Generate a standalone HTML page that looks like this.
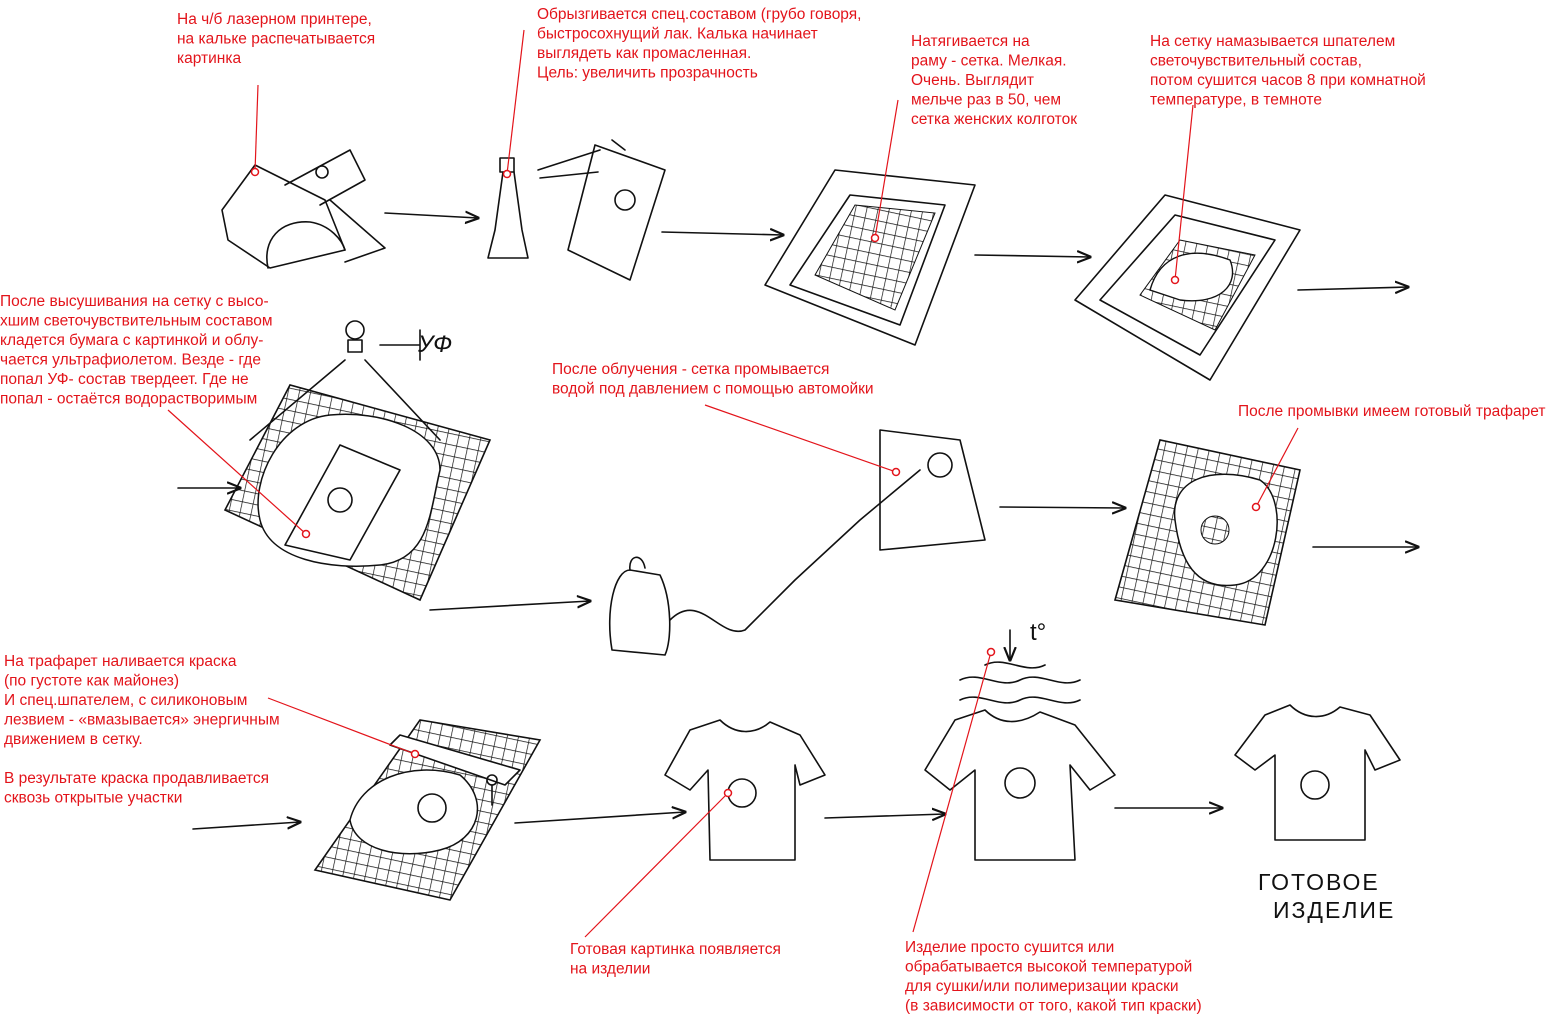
<!DOCTYPE html>
<html><head><meta charset="utf-8"><style>
html,body{margin:0;padding:0;background:#fff;}
svg{display:block}
.r{font-family:"Liberation Sans",sans-serif;font-size:15.5px;fill:#e3141b}
.k{fill:none;stroke:#111;stroke-width:1.6;stroke-linecap:round;stroke-linejoin:round}
.l{stroke:#e3141b;stroke-width:1.2;fill:none}
.d{fill:#fff;stroke:#e3141b;stroke-width:1.5}
.h{font-family:"Liberation Sans",sans-serif;fill:#111}
</style></head><body>
<svg width="1560" height="1032" viewBox="0 0 1560 1032" xmlns="http://www.w3.org/2000/svg">
<defs>
<pattern id="g" width="11" height="11" patternUnits="userSpaceOnUse" patternTransform="rotate(12)">
<path d="M0 0H11M0 0V11" stroke="#111" stroke-width="1.4"/></pattern>
<marker id="a" viewBox="0 0 10 10" refX="9" refY="5" markerWidth="9" markerHeight="9" orient="auto"><path d="M0 1L10 5L0 9" fill="none" stroke="#111" stroke-width="1.5"/></marker>
</defs>
<rect width="1560" height="1032" fill="#fff"/>

<g class="k" marker-end="url(#a)">
<path d="M385 213L478 218"/><path d="M662 232L783 235"/><path d="M975 255L1090 257"/>
<path d="M1298 290L1408 287"/><path d="M178 488L240 488"/><path d="M430 610L590 601"/>
<path d="M1000 507L1125 508"/><path d="M1313 547L1418 547"/><path d="M193 829L300 822"/>
<path d="M515 823L685 812"/><path d="M825 818L945 814"/><path d="M1115 808L1222 808"/>
</g>

<g class="k">
<path d="M222 210L255 165L325 200L345 250L270 268L228 240Z"/>
<path d="M268 268C262 240 280 220 310 222C330 225 342 240 345 250"/>
<path d="M285 185L350 150L365 180L320 205"/>
<path d="M330 200L385 248L345 262"/>
<circle cx="322" cy="172" r="6"/>
</g>
<g class="k">
<path d="M500 158h14v14h-14z"/><path d="M503 172L495 230L488 258h40L522 230L514 172"/>
<path d="M538 170L600 150M540 178L598 172"/>
<path d="M595 145L665 170L630 280L568 250Z"/><path d="M612 140L625 150"/>
<circle cx="625" cy="200" r="10"/>
</g>
<g class="k">
<path d="M765 285L835 170L975 185L915 345Z"/><path d="M790 285L850 195L945 205L900 325Z"/>
</g>
<path d="M815 275L855 205L935 213L895 310Z" fill="url(#g)" stroke="#111"/>
<g class="k"><path d="M1075 300L1165 195L1300 230L1210 380Z"/><path d="M1100 300L1175 215L1275 240L1200 355Z"/></g>
<path d="M1140 295L1180 240L1255 255L1215 330Z" fill="url(#g)" stroke="#111"/>
<path d="M1150 290C1160 255 1190 245 1230 260C1240 285 1220 305 1180 300Z" fill="#fff" stroke="#111" stroke-width="1.4"/>

<path d="M225 510L290 385L490 440L420 600Z" fill="url(#g)" stroke="#111" stroke-width="1.6"/>
<path d="M260 520C250 480 280 420 330 415C380 410 440 430 440 470C430 510 430 560 380 565C330 570 270 560 260 520Z" fill="#fff" stroke="#111" stroke-width="1.5"/>
<path d="M285 545L340 445L400 470L350 560Z" class="k" fill="#fff"/>
<circle cx="340" cy="500" r="12" class="k"/>
<g class="k"><circle cx="355" cy="330" r="9"/><path d="M348 340h14v12h-14z"/><path d="M345 360L250 440M365 360L440 440M380 345L420 345M420 330v30"/></g>
<text x="418" y="352" class="h" font-size="24" font-style="italic">УФ</text>

<g class="k">
<path d="M612 650C605 610 615 570 630 570L660 575C672 600 672 640 665 655Z"/><path d="M630 570C628 555 642 552 645 568"/>
<path d="M670 620C700 590 720 640 745 630L795 580L860 520L920 470"/>
<path d="M880 430L960 440L985 540L880 550Z"/>
<circle cx="940" cy="465" r="12"/>
</g>
<path d="M1115 600L1160 440L1300 470L1265 625Z" fill="url(#g)" stroke="#111" stroke-width="1.6"/>
<path d="M1175 520C1170 480 1210 465 1260 480C1290 500 1280 580 1235 585C1195 590 1180 560 1175 520Z" fill="#fff" stroke="#111" stroke-width="1.5"/>
<circle cx="1215" cy="530" r="14" fill="url(#g)" stroke="#111"/>

<path d="M315 870L420 720L540 740L450 900Z" fill="url(#g)" stroke="#111" stroke-width="1.6"/>
<path d="M350 820C360 780 410 760 460 775C490 800 480 840 440 850C400 860 355 850 350 820Z" fill="#fff" stroke="#111" stroke-width="1.5"/>
<circle cx="432" cy="808" r="14" class="k"/>
<g class="k"><path d="M390 745L400 735L520 770L505 785Z" fill="#fff"/><circle cx="492" cy="780" r="5"/><path d="M492 785V805"/></g>

<g class="k">
<path d="M690 730L720 720C735 735 755 735 770 722L800 735L825 775L800 785L795 765L795 860H710L708 770L690 790L665 775Z"/>
<circle cx="742" cy="793" r="14"/>
<path d="M955 720L985 710C1000 725 1020 725 1040 712L1075 725L1115 775L1090 790L1070 765L1075 860H975L975 770L950 790L925 770Z"/>
<circle cx="1020" cy="783" r="15"/>
<path d="M960 680c20-10 40 10 60 0s40 10 60 0M960 700c20-10 40 10 60 0s40 10 60 0M985 665c20-10 40 10 60 0"/>
<path d="M1010 630V660" marker-end="url(#a)"/>
<path d="M1265 715L1290 705C1305 720 1325 720 1340 707L1370 715L1400 760L1375 770L1365 750L1365 840H1275L1275 755L1255 770L1235 755Z"/>
<circle cx="1315" cy="785" r="14"/>
</g>
<text x="1030" y="640" class="h" font-size="24">t°</text>
<text x="1258" y="890" class="h" font-size="23" letter-spacing="2">ГОТОВОЕ</text>
<text x="1273" y="918" class="h" font-size="23" letter-spacing="2">ИЗДЕЛИЕ</text>

<g class="l"><path d="M258 85L255 172"/><path d="M524 30L507 174"/><path d="M898 100L875 238"/><path d="M1193 105L1175 280"/>
<path d="M168 410L306 534"/><path d="M705 405L896 472"/><path d="M1298 428L1256 507"/><path d="M268 698L415 754"/>
<path d="M585 937L728 793"/><path d="M913 932L991 652"/></g>
<g class="d"><circle cx="255" cy="172" r="3.5"/><circle cx="507" cy="174" r="3.5"/><circle cx="875" cy="238" r="3.5"/><circle cx="1175" cy="280" r="3.5"/>
<circle cx="306" cy="534" r="3.5"/><circle cx="896" cy="472" r="3.5"/><circle cx="1256" cy="507" r="3.5"/><circle cx="415" cy="754" r="3.5"/>
<circle cx="728" cy="793" r="3.5"/><circle cx="991" cy="652" r="3.5"/></g>

<text class="r" x="177" y="24"><tspan x="177">На ч/б лазерном принтере,</tspan><tspan x="177" dy="19.5">на кальке распечатывается</tspan><tspan x="177" dy="19.5">картинка</tspan></text>
<text class="r" x="537" y="19"><tspan x="537">Обрызгивается спец.составом (грубо говоря,</tspan><tspan x="537" dy="19.5">быстросохнущий лак. Калька начинает</tspan><tspan x="537" dy="19.5">выглядеть как промасленная.</tspan><tspan x="537" dy="19.5">Цель: увеличить прозрачность</tspan></text>
<text class="r" x="911" y="46"><tspan x="911">Натягивается на</tspan><tspan x="911" dy="19.5">раму - сетка. Мелкая.</tspan><tspan x="911" dy="19.5">Очень. Выглядит</tspan><tspan x="911" dy="19.5">мельче раз в 50, чем</tspan><tspan x="911" dy="19.5">сетка женских колготок</tspan></text>
<text class="r" x="1150" y="46"><tspan x="1150">На сетку намазывается шпателем</tspan><tspan x="1150" dy="19.5">светочувствительный состав,</tspan><tspan x="1150" dy="19.5">потом сушится часов 8 при комнатной</tspan><tspan x="1150" dy="19.5">температуре, в темноте</tspan></text>
<text class="r" x="0" y="306"><tspan x="0">После высушивания на сетку с высо-</tspan><tspan x="0" dy="19.5">хшим светочувствительным составом</tspan><tspan x="0" dy="19.5">кладется бумага с картинкой и облу-</tspan><tspan x="0" dy="19.5">чается ультрафиолетом. Везде - где</tspan><tspan x="0" dy="19.5">попал УФ- состав твердеет. Где не</tspan><tspan x="0" dy="19.5">попал - остаётся водорастворимым</tspan></text>
<text class="r" x="552" y="374"><tspan x="552">После облучения - сетка промывается</tspan><tspan x="552" dy="19.5">водой под давлением с помощью автомойки</tspan></text>
<text class="r" x="1238" y="416">После промывки имеем готовый трафарет</text>
<text class="r" x="4" y="666"><tspan x="4">На трафарет наливается краска</tspan><tspan x="4" dy="19.5">(по густоте как майонез)</tspan><tspan x="4" dy="19.5">И спец.шпателем, с силиконовым</tspan><tspan x="4" dy="19.5">лезвием - «вмазывается» энергичным</tspan><tspan x="4" dy="19.5">движением в сетку.</tspan><tspan x="4" dy="39">В результате краска продавливается</tspan><tspan x="4" dy="19.5">сквозь открытые участки</tspan></text>
<text class="r" x="570" y="954"><tspan x="570">Готовая картинка появляется</tspan><tspan x="570" dy="19.5">на изделии</tspan></text>
<text class="r" x="905" y="952"><tspan x="905">Изделие просто сушится или</tspan><tspan x="905" dy="19.5">обрабатывается высокой температурой</tspan><tspan x="905" dy="19.5">для сушки/или полимеризации краски</tspan><tspan x="905" dy="19.5">(в зависимости от того, какой тип краски)</tspan></text>
</svg>
</body></html>
